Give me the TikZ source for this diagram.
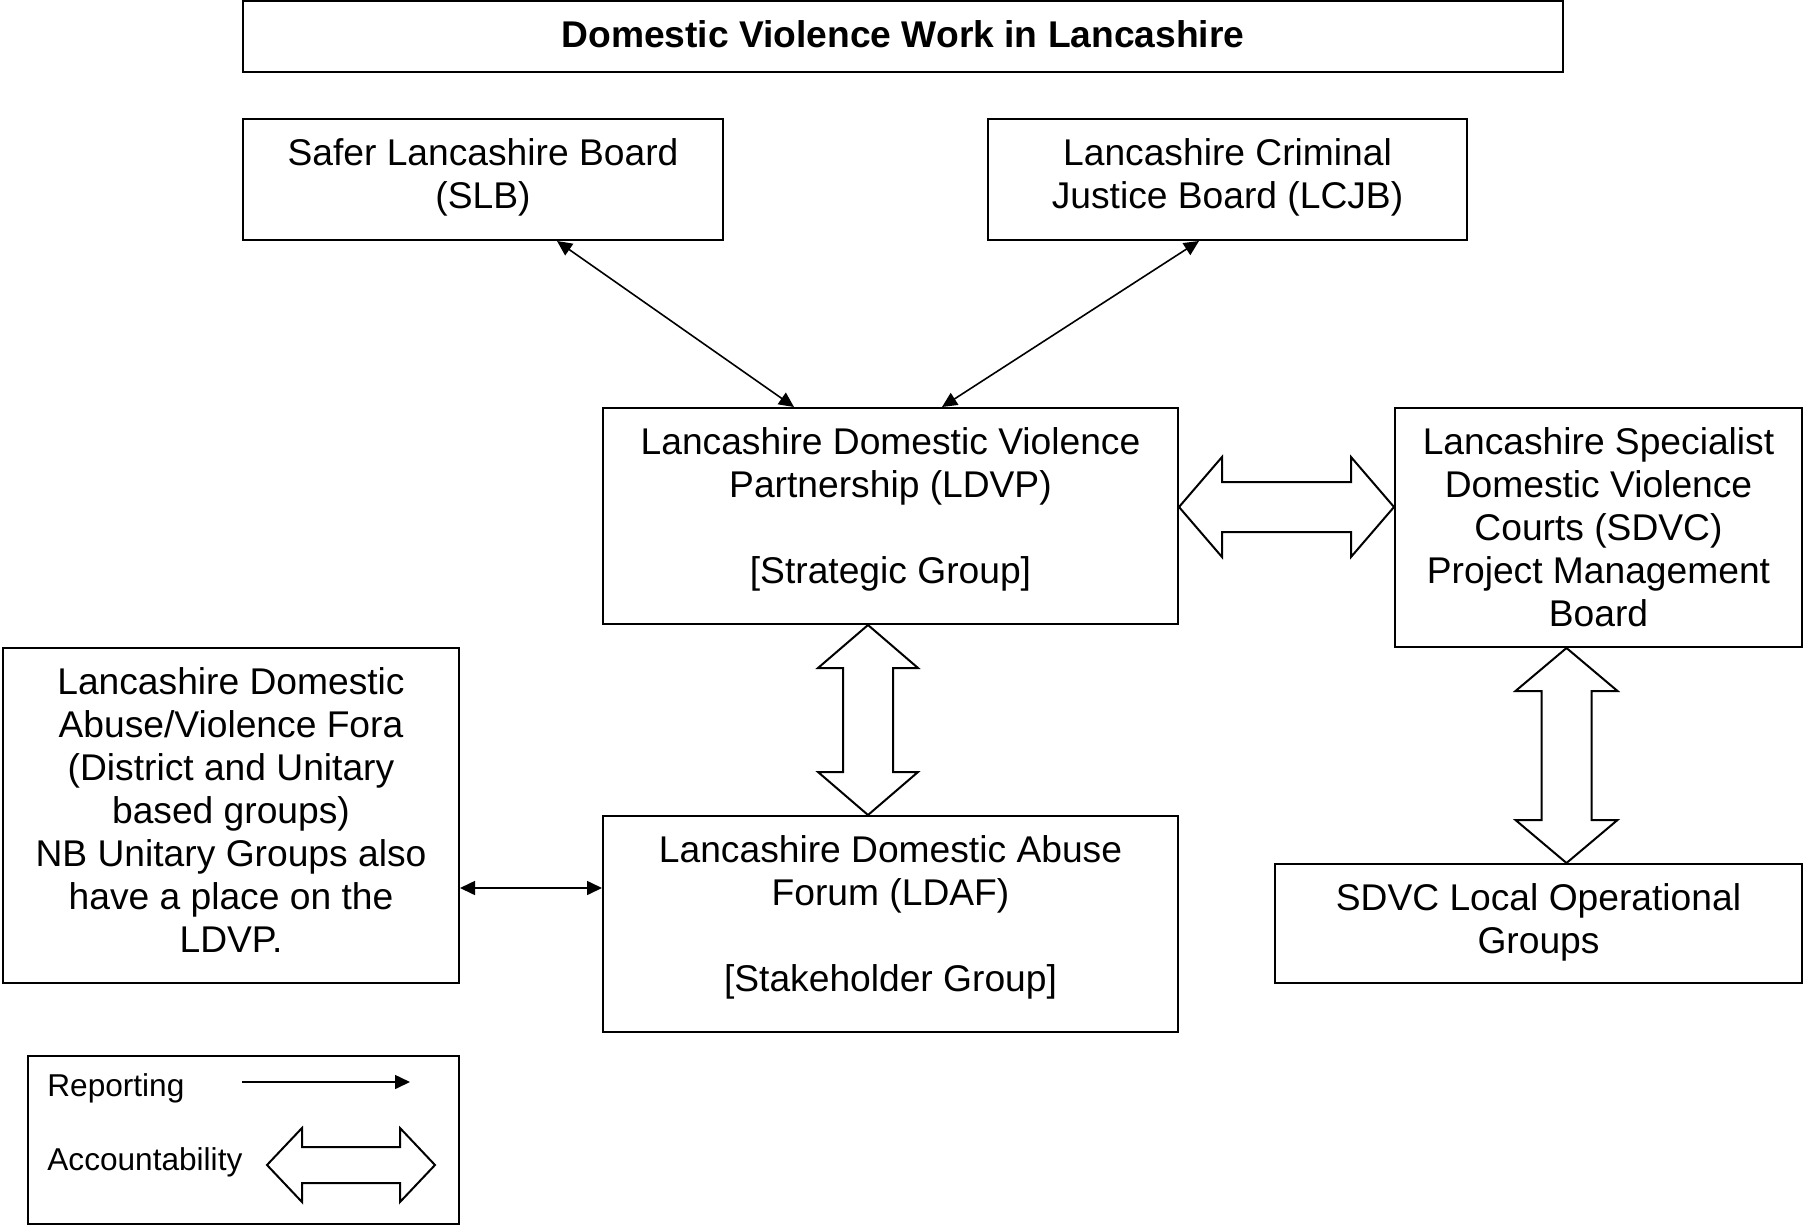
\documentclass[tikz,border=0pt]{standalone}
\usepackage{fontspec}
\setmainfont{Liberation Sans}
\usetikzlibrary{arrows.meta,calc,positioning}

\newcommand{\accarrow}[5]{%
\draw[acc] (#1) -- ($(#1)!#3!(#2)!#4!90:(#2)$) -- ($(#1)!#3!(#2)!#5!90:(#2)$)
  -- ($(#2)!#3!(#1)!#5!-90:(#1)$) -- ($(#2)!#3!(#1)!#4!-90:(#1)$) -- (#2)
  -- ($(#2)!#3!(#1)!#4!90:(#1)$) -- ($(#2)!#3!(#1)!#5!90:(#1)$)
  -- ($(#1)!#3!(#2)!#5!-90:(#2)$) -- ($(#1)!#3!(#2)!#4!-90:(#2)$) -- cycle;}

\begin{document}
\begin{tikzpicture}[x=0.5pt,y=-0.5pt,
  box/.style={draw,line width=1pt,inner sep=0pt},
  txt/.style={align=center,inner sep=0pt,font=\fontsize{18.6}{21.5}\selectfont},
  legtxt/.style={inner sep=0pt,font=\fontsize{15.8}{18}\selectfont},
  rep/.style={line width=0.8pt},
  acc/.style={line width=1pt,line join=miter},
  >={Triangle[length=7.5pt,width=7pt]}]
\useasboundingbox (0,0) rectangle (1805,1226);
\node[box,minimum width=660pt,minimum height=35.5pt] (title) at (903,36.5) {};
\node[box,minimum width=240pt,minimum height=60.5pt] (slb) at (483,179.5) {};
\node[box,minimum width=239.5pt,minimum height=60.5pt] (lcjb) at (1227.5,179.5) {};
\node[box,minimum width=287.5pt,minimum height=108pt] (ldvp) at (890.5,516) {};
\node[box,minimum width=203.5pt,minimum height=119.5pt] (sdvc) at (1598.5,527.5) {};
\node[box,minimum width=228pt,minimum height=167.5pt] (fora) at (231,815.5) {};
\node[box,minimum width=287.5pt,minimum height=108pt] (ldaf) at (890.5,924) {};
\node[box,minimum width=263.5pt,minimum height=59.5pt] (local) at (1538.5,923.5) {};
\node[box,minimum width=215.5pt,minimum height=84pt] (legend) at (243.5,1140) {};
\node[txt,below=10pt of title.north] (title-t) {\textbf{Domestic Violence Work in Lancashire}};
\node[txt,below=10pt of slb.north] (slb-t) {Safer Lancashire Board\\(SLB)};
\node[txt,below=10pt of lcjb.north] (lcjb-t) {Lancashire Criminal\\Justice Board (LCJB)};
\node[txt,below=10pt of ldvp.north] (ldvp-t) {Lancashire Domestic Violence\\Partnership (LDVP)\\[21.5pt]{[Strategic Group]}};
\node[txt,below=10pt of sdvc.north] (sdvc-t) {Lancashire Specialist\\Domestic Violence\\Courts (SDVC)\\Project Management\\Board};
\node[txt,below=10pt of fora.north] (fora-t) {Lancashire Domestic\\Abuse/Violence Fora\\(District and Unitary\\based groups)\\NB Unitary Groups also\\have a place on the\\LDVP.};
\node[txt,below=10pt of ldaf.north] (ldaf-t) {Lancashire Domestic Abuse\\Forum (LDAF)\\[21.5pt]{[Stakeholder Group]}};
\node[txt,below=10pt of local.north] (local-t) {SDVC Local Operational\\Groups};
\node[legtxt,anchor=west] (rep-t) at (47,1088) {Reporting};
\node[legtxt,anchor=west] (acc-t) at (47,1162) {Accountability};
\coordinate (f1) at ([yshift=-36.25pt]fora.east);
\coordinate (a1) at ([yshift=4.5pt]ldvp.east);
\coordinate (a2) at (sdvc.west |- a1);
\coordinate (b1) at ([xshift=-11.25pt]ldvp.south);
\coordinate (b2) at (ldaf.north -| b1);
\coordinate (c1) at ([xshift=-16pt]sdvc.south);
\coordinate (c2) at (local.north -| c1);
\coordinate (rep-a) at (242,1082);
\coordinate (rep-b) at (410,1082);
\coordinate (acc-a) at (267,1165);
\coordinate (acc-b) at (435,1165);
\draw[rep,<->] ([xshift=37pt]slb.south) -- ([xshift=-48.25pt]ldvp.north);
\draw[rep,<->] ([xshift=-14.25pt]lcjb.south) -- ([xshift=25.75pt]ldvp.north);
\draw[rep,<->] (f1) -- (f1 -| ldaf.west);
\draw[rep,->] (rep-a) -- (rep-b);
\accarrow{a1}{a2}{21.5pt}{25pt}{12.5pt}
\accarrow{b1}{b2}{21.5pt}{25pt}{12.5pt}
\accarrow{c1}{c2}{21.5pt}{25.5pt}{12.5pt}
\accarrow{acc-a}{acc-b}{17.5pt}{18.5pt}{9pt}
\end{tikzpicture}
\end{document}
